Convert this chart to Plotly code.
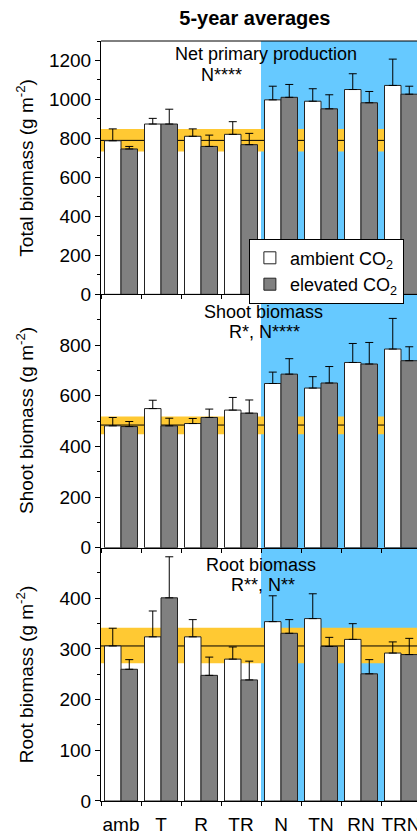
import plotly.graph_objects as go
from plotly.subplots import make_subplots

categories = ["amb", "T", "R", "TR", "N", "TN", "RN", "TRN"]

# Total biomass (net primary production)
total_ambient = [788, 874, 811, 821, 998, 991, 1051, 1072]
total_ambient_err = [61, 29, 38, 65, 70, 64, 81, 135]
total_elevated = [746, 874, 759, 768, 1011, 952, 983, 1027]
total_elevated_err = [13, 76, 58, 58, 66, 72, 58, 41]
total_ref = [790, 733, 849]  # mean, lower, upper of ambient control band

# Shoot biomass
shoot_ambient = [481, 549, 490, 543, 648, 630, 731, 784]
shoot_ambient_err = [33, 33, 20, 50, 45, 45, 75, 121]
shoot_elevated = [478, 481, 514, 531, 685, 650, 725, 738]
shoot_elevated_err = [20, 30, 33, 52, 61, 65, 85, 55]
shoot_ref = [484, 448, 518]

# Root biomass
root_ambient = [306, 324, 324, 280, 354, 360, 319, 292]
root_ambient_err = [35, 51, 34, 24, 51, 49, 31, 22]
root_elevated = [260, 401, 248, 239, 331, 305, 251, 289]
root_elevated_err = [19, 81, 36, 37, 27, 18, 28, 32]
root_ref = [306, 272, 342]

panel_titles = [
    ("Net primary production", "N****"),
    ("Shoot biomass", "R*, N****"),
    ("Root biomass", "R**, N**"),
]
y_titles = [
    "Total biomass (g m<sup>-2</sup>)",
    "Shoot biomass (g m<sup>-2</sup>)",
    "Root biomass (g m<sup>-2</sup>)",
]

FONT = "Liberation Sans, Arial, sans-serif"
BLUE = "#66C9FF"
ORANGE = "#FFC933"
GRAY = "#808080"
EDGE = "#222222"

fig = make_subplots(rows=3, cols=1, shared_xaxes=True, vertical_spacing=0)

panels = [
    (total_ambient, total_ambient_err, total_elevated, total_elevated_err, total_ref),
    (shoot_ambient, shoot_ambient_err, shoot_elevated, shoot_elevated_err, shoot_ref),
    (root_ambient, root_ambient_err, root_elevated, root_elevated_err, root_ref),
]

for i, (amb, amb_err, ele, ele_err, ref) in enumerate(panels):
    row = i + 1
    fig.add_trace(go.Bar(
        x=categories, y=amb, name="ambient CO<sub>2</sub>",
        marker=dict(color="white", line=dict(color=EDGE, width=1)),
        error_y=dict(type="data", symmetric=False, array=amb_err,
                     arrayminus=[0] * len(amb), color="black", thickness=1, width=4),
        showlegend=(i == 0), legendgroup="amb",
    ), row=row, col=1)
    fig.add_trace(go.Bar(
        x=categories, y=ele, name="elevated CO<sub>2</sub>",
        marker=dict(color=GRAY, line=dict(color=EDGE, width=1)),
        error_y=dict(type="data", symmetric=False, array=ele_err,
                     arrayminus=[0] * len(ele), color="black", thickness=1, width=4),
        showlegend=(i == 0), legendgroup="ele",
    ), row=row, col=1)

shapes = []
# blue background for N treatments, across all panels
shapes.append(dict(type="rect", xref="x3", yref="paper", x0=3.5, x1=8.5, y0=0, y1=1,
                   fillcolor=BLUE, line=dict(width=0), layer="below"))
for i, ref in enumerate([total_ref, shoot_ref, root_ref]):
    xr = "x" if i == 0 else f"x{i+1}"
    yr = "y" if i == 0 else f"y{i+1}"
    shapes.append(dict(type="rect", xref=xr, yref=yr, x0=-0.5, x1=8.5, y0=ref[1], y1=ref[2],
                       fillcolor=ORANGE, line=dict(width=0), layer="below"))
    shapes.append(dict(type="line", xref=xr, yref=yr, x0=-0.5, x1=8.5, y0=ref[0], y1=ref[0],
                       line=dict(color="black", width=1), layer="below"))
# top frame line
shapes.append(dict(type="line", xref="paper", yref="paper", x0=0, x1=1, y0=1, y1=1,
                   line=dict(color="black", width=1)))

annotations = []
ann_pos = [
    ((3.625, 1231), (2.5, 1123)),
    ((3.55, 929), (3.575, 850)),
    ((3.51, 465), (3.56, 426)),
]
for i, ((t1, t2), ((x1, y1), (x2, y2))) in enumerate(zip(panel_titles, ann_pos)):
    xr = "x" if i == 0 else f"x{i+1}"
    yr = "y" if i == 0 else f"y{i+1}"
    annotations.append(dict(text=t1, xref=xr, yref=yr, x=x1, y=y1, showarrow=False,
                            font=dict(size=18, color="black", family=FONT),
                            xanchor="center", yanchor="middle"))
    annotations.append(dict(text=t2, xref=xr, yref=yr, x=x2, y=y2, showarrow=False,
                            font=dict(size=18, color="black", family=FONT),
                            xanchor="center", yanchor="middle"))
    dom = "y domain" if i == 0 else f"y{i+1} domain"
    annotations.append(dict(text=y_titles[i], xref="paper", yref=dom, x=-0.2405, y=0.5,
                            textangle=-90, showarrow=False,
                            font=dict(size=19, color="black", family=FONT),
                            xanchor="center", yanchor="middle"))

fig.update_layout(
    width=417, height=838,
    margin=dict(l=101, r=0, t=41, b=37, autoexpand=False),
    paper_bgcolor="white", plot_bgcolor="white",
    font=dict(family=FONT, size=19, color="black"),
    barmode="group", bargap=0.175, bargroupgap=0,
    title=dict(text="<b>5-year averages</b>", x=0.487, xref="paper", xanchor="center",
               y=1 - 18 / 838, yref="container", yanchor="middle",
               font=dict(size=20, family=FONT, color="black")),
    legend=dict(x=0.468, y=0.740, xanchor="left", yanchor="top",
                bgcolor="white", bordercolor="black", borderwidth=1,
                font=dict(size=18, family=FONT, color="black"),
                tracegroupgap=0),
    shapes=shapes, annotations=annotations,
)

yranges = [[0, 1300], [0, 1000], [0, 500]]
ytickvals = [list(range(0, 1201, 200)), list(range(0, 801, 200)), list(range(0, 401, 100))]
yminor = [list(range(100, 1301, 200)), list(range(100, 1000, 200)), list(range(50, 500, 100))]
for i in range(3):
    fig.update_yaxes(
        range=yranges[i], tickvals=ytickvals[i], showgrid=False, zeroline=False,
        showline=True, linecolor="black", linewidth=1, automargin=False,
        ticks="outside", ticklen=5, tickcolor="black", tickwidth=1,
        minor=dict(tickvals=yminor[i], ticks="outside", ticklen=3, tickcolor="black", showgrid=False),
        tickfont=dict(size=19, family=FONT, color="black"),
        row=i + 1, col=1)
    fig.update_xaxes(
        type="category", categoryorder="array", categoryarray=categories,
        range=[-0.5, 7.4], tickson="boundaries", showgrid=False, zeroline=False,
        showline=True, linecolor="black", linewidth=1, automargin=False,
        ticks="outside", ticklen=4, tickcolor="black", tickwidth=1,
        tickangle=0, ticklabelstandoff=6,
        showticklabels=(i == 2),
        tickfont=dict(size=19, family=FONT, color="black"),
        row=i + 1, col=1)

fig.write_html("out.html")
